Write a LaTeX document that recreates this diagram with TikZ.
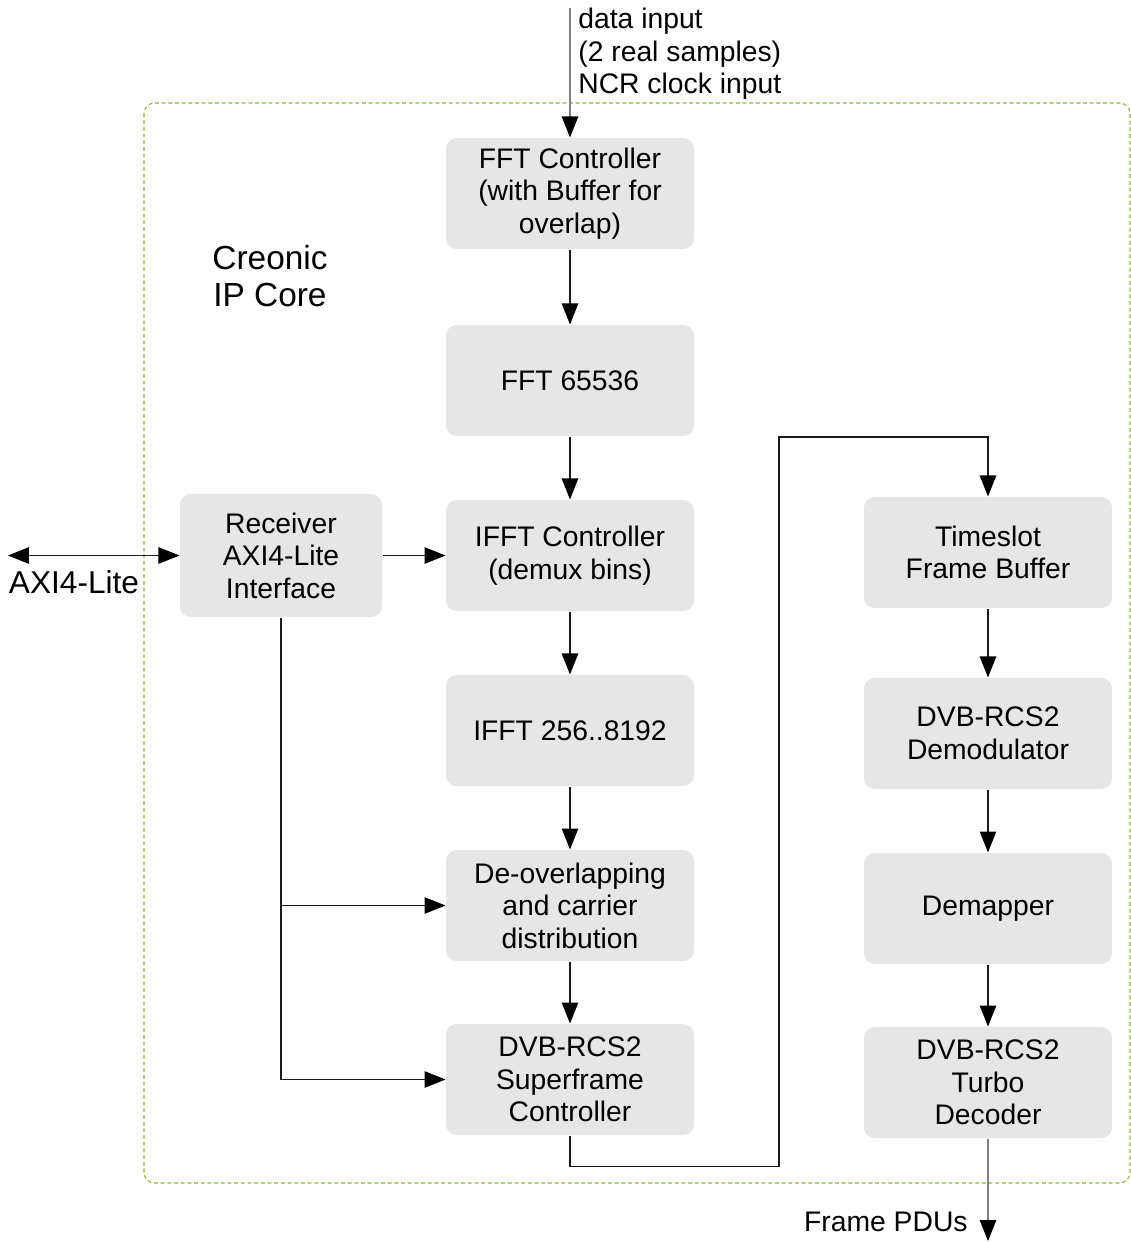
\documentclass[tikz,border=0pt]{standalone}
\usepackage{fontspec}
\setmainfont{Liberation Sans}
\usetikzlibrary{arrows.meta, positioning}
\definecolor{cfill}{HTML}{E6E6E6}
\definecolor{cborder}{HTML}{8DB33A}
\definecolor{cline}{HTML}{1A1A1A}
\tikzset{
  every picture/.style={line width=0.6pt},
  block/.style={fill=cfill, rounded corners=6pt, align=center, minimum width=4.96cm, minimum height=2.22cm, inner sep=2pt, font=\fontsize{16.1}{18.5}\selectfont},
  flow/.style={-{Triangle[length=0.42cm, width=0.33cm, color=black]}, draw=cline},
  both/.style={{Triangle[length=0.42cm, width=0.33cm, color=black]}-{Triangle[length=0.42cm, width=0.33cm, color=black]}, draw=cline},
  label/.style={font=\fontsize{16.1}{18.3}\selectfont, align=left},
}

\begin{document}
\begin{tikzpicture}[x=0.02cm, y=-0.02cm]
  \useasboundingbox (0,0) rectangle (1131,1242);
  % IP core frame
  \draw[cborder, dash pattern=on 2.2pt off 1.6pt, rounded corners=6pt] (144,103) rectangle (1130,1183);
  \node[font=\fontsize{19}{21}\selectfont, align=center] (core) at (270,276) {Creonic\\ IP Core};
  % left column
  \node[block] (fftctl) at (570,193.5) {FFT Controller\\(with Buffer for\\overlap)};
  \node[block] (fft) at (570,380.5) {FFT 65536};
  \node[block] (ifftctl) at (570,555.5) {IFFT Controller\\(demux bins)};
  \node[block] (ifft) at (570,730.5) {IFFT 256..8192};
  \node[block] (deovl) at (570,905.5) {De-overlapping\\and carrier\\distribution};
  \node[block] (sframe) at (570,1079.5) {DVB-RCS2\\Superframe\\Controller};
  \node[block, minimum width=4.04cm, minimum height=2.46cm] (axi) at (281,555.5) {Receiver\\AXI4-Lite\\Interface};
  % right column
  \node[block] (tslot) at (988,552.5) {Timeslot\\Frame Buffer};
  \node[block] (demod) at (988,733.5) {DVB-RCS2\\Demodulator};
  \node[block] (demap) at (988,908.5) {Demapper};
  \node[block] (turbo) at (988,1082.5) {DVB-RCS2\\Turbo\\Decoder};
  % external ends
  \coordinate (din) at (570,8);
  \coordinate (axiext) at (8,555.5);
  \coordinate (pdu) at (988,1241);
  \node[label, anchor=north west] (dinlbl) at (572,2) {data input\\(2 real samples)\\NCR clock input};
  \node[label, font=\fontsize{18}{20}\selectfont] (axilbl) at (74,582) {AXI4-Lite};
  \node[label, anchor=east] (pdulbl) at (974,1222) {Frame PDUs};
  % connections
  \draw[flow, draw=gray] (din) -- (fftctl);
  \draw[flow] (fftctl) -- (fft);
  \draw[flow] (fft) -- (ifftctl);
  \draw[flow] (ifftctl) -- (ifft);
  \draw[flow] (ifft) -- (deovl);
  \draw[flow] (deovl) -- (sframe);
  \draw[both] (axiext) -- (axi);
  \draw[flow] (axi.east |- ifftctl) -- (ifftctl);
  \draw[flow] (axi.south) |- (deovl.west);
  \draw[flow] (axi.south) |- (sframe.west);
  \draw[flow] (sframe.south) -- ++(0,31) -| (779,437) -| (tslot.north);
  \draw[flow] (tslot) -- (demod);
  \draw[flow] (demod) -- (demap);
  \draw[flow] (demap) -- (turbo);
  \draw[flow, draw=gray] (turbo) -- (pdu);
\end{tikzpicture}
\end{document}
